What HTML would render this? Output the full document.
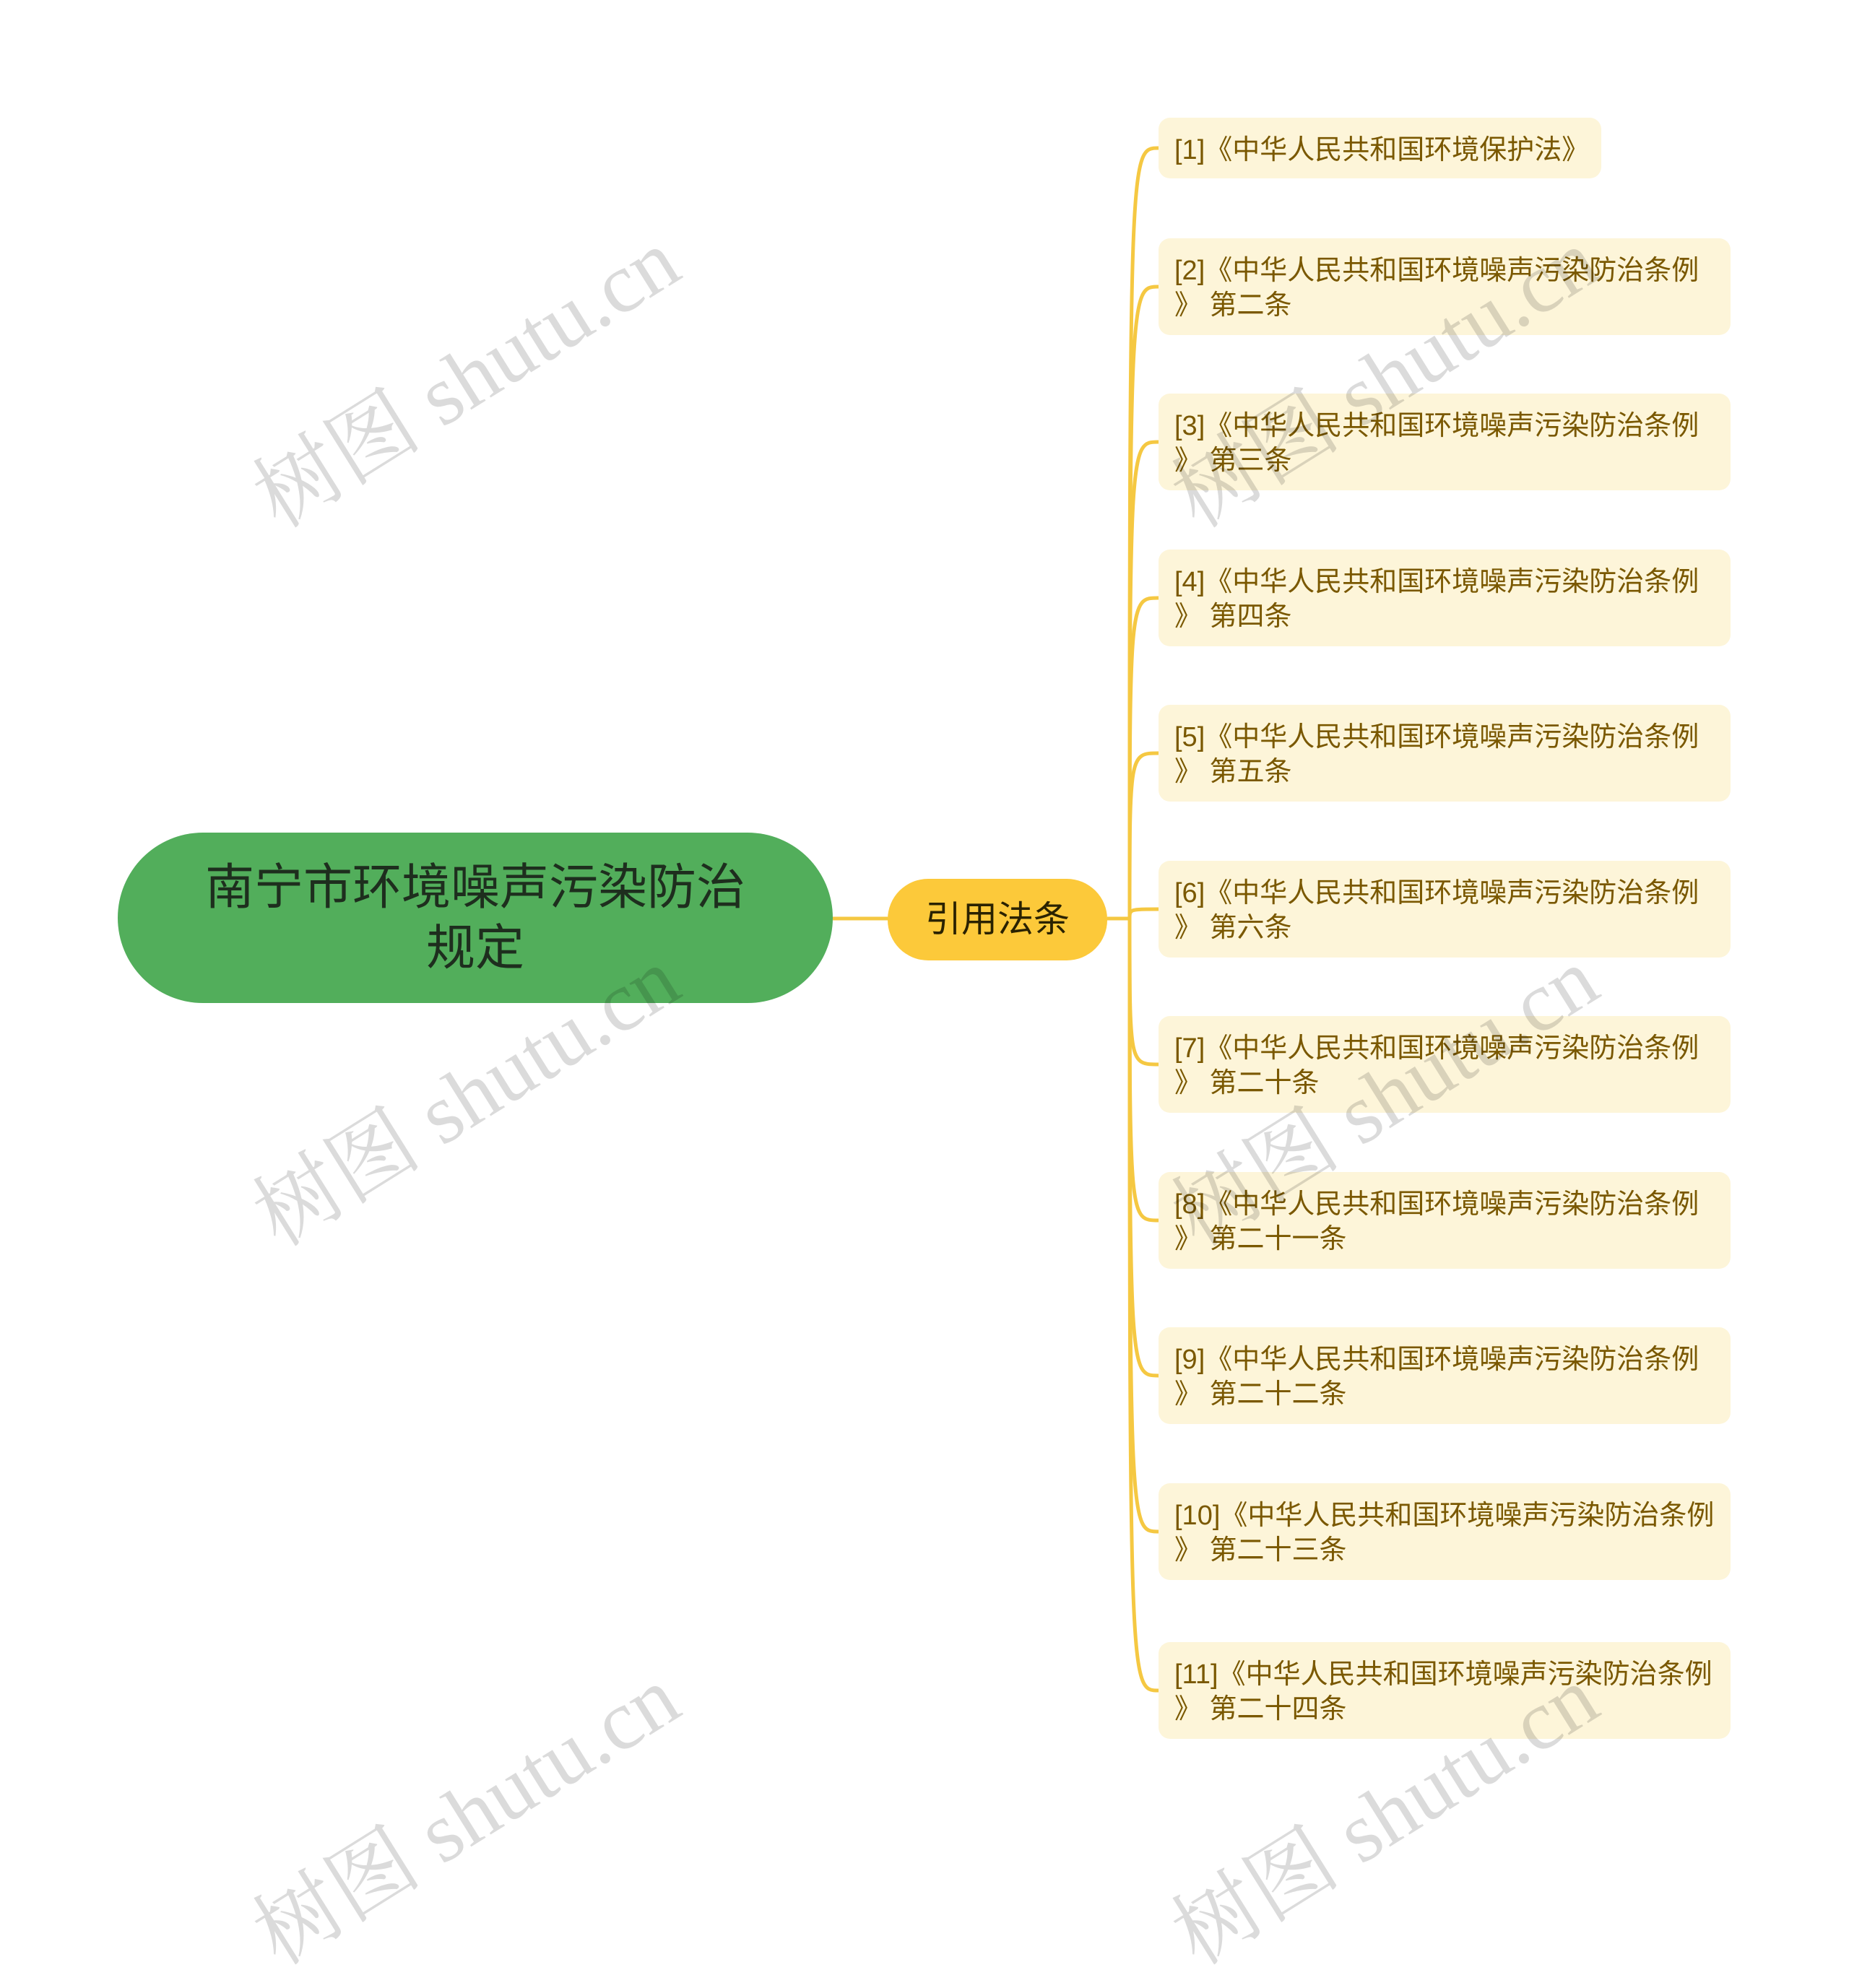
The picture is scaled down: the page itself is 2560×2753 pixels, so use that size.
<!DOCTYPE html>
<html><head><meta charset="utf-8"><style>
body{margin:0;width:2560px;height:2571px;background:#fff;position:relative;overflow:hidden;font-family:"Liberation Sans","Noto Sans CJK SC",sans-serif}
.n{position:absolute;box-sizing:border-box}
.root{left:163px;top:1153px;width:990px;height:236px;border-radius:118px;background:#52ae5b;color:#1e2e1e;font-size:68px;line-height:84px;text-align:center;padding-top:34px}
.mid{left:1229px;top:1217px;width:304px;height:113px;border-radius:56px;background:#fcc93a;color:#2a2200;font-size:50px;line-height:113px;text-align:center}
.leaf{left:1604px;width:792px;height:134px;border-radius:16px;background:#fdf5d9;color:#7a5800;font-size:38px;line-height:48px;padding:21px 0 0 22px;white-space:nowrap}
.wm{position:absolute;font-family:"Liberation Serif","Noto Serif CJK SC",serif;font-size:118px;color:rgba(0,0,0,0.14);transform:translate(-50%,-50%) rotate(-32deg);white-space:nowrap}
</style></head><body>
<svg width="2560" height="2571" style="position:absolute;left:0;top:0" fill="none" stroke="#f5c842" stroke-width="5">
<path d="M1153 1272H1229M1533 1272H1564"/>
<path d="M1564 1272C1564 205 1564 205 1604 205"/>
<path d="M1564 1272C1564 397 1564 397 1604 397"/>
<path d="M1564 1272C1564 612 1564 612 1604 612"/>
<path d="M1564 1272C1564 828 1564 828 1604 828"/>
<path d="M1564 1272C1564 1043 1564 1043 1604 1043"/>
<path d="M1564 1272C1564 1259 1564 1259 1604 1259"/>
<path d="M1564 1272C1564 1474 1564 1474 1604 1474"/>
<path d="M1564 1272C1564 1690 1564 1690 1604 1690"/>
<path d="M1564 1272C1564 1905 1564 1905 1604 1905"/>
<path d="M1564 1272C1564 2121 1564 2121 1604 2121"/>
<path d="M1564 1272C1564 2341 1564 2341 1604 2341"/>
</svg>
<div class="n root">南宁市环境噪声污染防治<br>规定</div>
<div class="n mid">引用法条</div>
<div class="n leaf" style="top:163px;width:613px;height:84px">[1]《中华人民共和国环境保护法》</div>
<div class="n leaf" style="top:330px">[2]《中华人民共和国环境噪声污染防治条例<br>》 第二条</div>
<div class="n leaf" style="top:545px">[3]《中华人民共和国环境噪声污染防治条例<br>》 第三条</div>
<div class="n leaf" style="top:761px">[4]《中华人民共和国环境噪声污染防治条例<br>》 第四条</div>
<div class="n leaf" style="top:976px">[5]《中华人民共和国环境噪声污染防治条例<br>》 第五条</div>
<div class="n leaf" style="top:1192px">[6]《中华人民共和国环境噪声污染防治条例<br>》 第六条</div>
<div class="n leaf" style="top:1407px">[7]《中华人民共和国环境噪声污染防治条例<br>》 第二十条</div>
<div class="n leaf" style="top:1623px">[8]《中华人民共和国环境噪声污染防治条例<br>》 第二十一条</div>
<div class="n leaf" style="top:1838px">[9]《中华人民共和国环境噪声污染防治条例<br>》 第二十二条</div>
<div class="n leaf" style="top:2054px">[10]《中华人民共和国环境噪声污染防治条例<br>》 第二十三条</div>
<div class="n leaf" style="top:2274px">[11]《中华人民共和国环境噪声污染防治条例<br>》 第二十四条</div>
<div class="wm" style="left:640px;top:515px">树图 shutu.cn</div>
<div class="wm" style="left:640px;top:1510px">树图 shutu.cn</div>
<div class="wm" style="left:640px;top:2505px">树图 shutu.cn</div>
<div class="wm" style="left:1912px;top:515px">树图 shutu.cn</div>
<div class="wm" style="left:1912px;top:1510px">树图 shutu.cn</div>
<div class="wm" style="left:1912px;top:2505px">树图 shutu.cn</div>
</body></html>
